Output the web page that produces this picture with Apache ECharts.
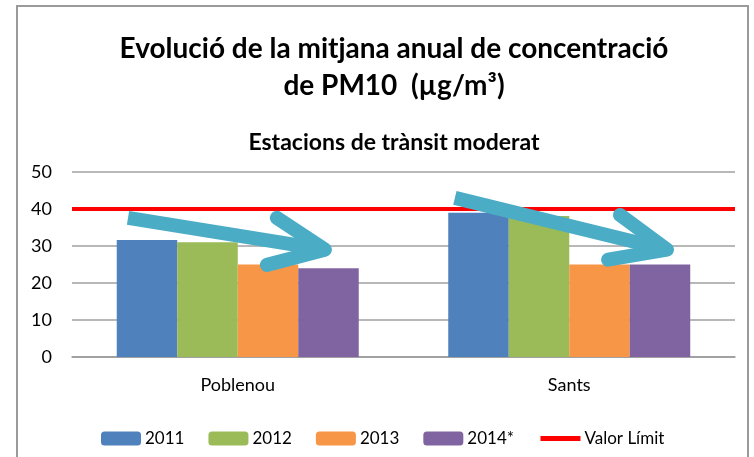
<!DOCTYPE html>
<html>
<head>
<meta charset="utf-8">
<script src="https://cdn.jsdelivr.net/npm/echarts@6/dist/echarts.min.js"></script>
<style>html,body{margin:0;padding:0;background:#fff}#c{width:754px;height:457px}</style>
</head>
<body>
<div id="c"></div>
<script>
// ---- data ----
var categories = ['Poblenou', 'Sants'];
var years = ['2011', '2012', '2013', '2014*'];
var v2011 = [31.6, 39.0];
var v2012 = [31.0, 38.1];
var v2013 = [25.0, 25.0];
var v2014 = [24.0, 25.0];
var limitName = 'Valor Límit';
var limitValue = 40;
var yTicks = [0, 10, 20, 30, 40, 50];
// trend arrows (annotation) in data space: [category position 0..2, value]
var arrow1Shaft = [[0.169, 37.6], [0.763, 29.0]];
var arrow1Head = [[0.618, 37.6], [0.763, 29.0], [0.588, 24.9]];
var arrow2Shaft = [[1.155, 43.0], [1.795, 29.0]];
var arrow2Head = [[1.653, 38.4], [1.795, 29.0], [1.617, 26.3]];

var colors = ['#4F81BD', '#9BBB59', '#F79646', '#8064A2'];
var seriesValues = [v2011, v2012, v2013, v2014];
var FONT = 'Lato';

var chart = echarts.init(document.getElementById('c'));
var series = years.map(function (y, i) {
  return {
    name: y, type: 'bar', data: seriesValues[i],
    barGap: '0%', barCategoryGap: '27%',
    itemStyle: { color: colors[i] }, z: 2
  };
});
series.push({
  name: limitName, type: 'line', data: [], symbol: 'none', showSymbol: false,
  lineStyle: { color: '#FF0000', width: 5 }, itemStyle: { color: '#FF0000' },
  markLine: {
    silent: true, symbol: 'none', label: { show: false },
    lineStyle: { color: '#FF0000', width: 4, type: 'solid' },
    data: [{ yAxis: limitValue }]
  }, z: 3
});
function arrowSeries(d, cap) {
  return {
    type: 'line', xAxisIndex: 1, yAxisIndex: 0, data: d, symbol: 'none', silent: true,
    lineStyle: { color: '#4BACC6', width: 14, cap: cap, join: 'round' }, z: 5
  };
}
series.push(arrowSeries(arrow1Shaft, 'butt'), arrowSeries(arrow1Head, 'round'),
            arrowSeries(arrow2Shaft, 'butt'), arrowSeries(arrow2Head, 'round'));

chart.setOption({
  animation: false,
  textStyle: { fontFamily: FONT },
  title: [
    { text: 'Evolució de la mitjana anual de concentració\nde PM10  (µg/m³)', left: 389, textAlign: 'center', top: 25,
      textStyle: { fontFamily: FONT, fontWeight: 'bold', fontSize: 28, lineHeight: 37, color: '#000' } },
    { text: 'Estacions de trànsit moderat', left: 389, textAlign: 'center', top: 126,
      textStyle: { fontFamily: FONT, fontWeight: 'bold', fontSize: 23, color: '#000' } }
  ],
  grid: { left: 72, right: 19, top: 172, bottom: 100 },
  legend: {
    data: years.concat([{ name: limitName, itemStyle: { opacity: 0 }, lineStyle: { width: 5, color: '#FF0000' } }]),
    left: 96, top: 425, itemWidth: 40, itemHeight: 14, itemGap: 24,
    textStyle: { fontFamily: FONT, fontSize: 17, color: '#000', padding: [0, 0, 0, -1] }
  },
  xAxis: [
    { type: 'category', data: categories, axisTick: { show: false },
      axisLine: { lineStyle: { color: '#999', width: 1.5 } },
      axisLabel: { fontFamily: FONT, fontSize: 18, color: '#000', margin: 19 } },
    { type: 'value', min: 0, max: 2, show: false }
  ],
  yAxis: {
    type: 'value', min: yTicks[0], max: yTicks[yTicks.length - 1], interval: 10,
    axisLine: { show: false }, axisTick: { show: false },
    axisLabel: { fontFamily: FONT, fontSize: 18, color: '#000', margin: 20 },
    splitLine: { lineStyle: { color: '#A0A0A0', width: 1.5 } }
  },
  graphic: [{ type: 'rect', shape: { x: 17, y: 6, width: 731, height: 470 },
    style: { fill: 'none', stroke: '#9a9a9a', lineWidth: 2 }, silent: true, z: -1 }],
  series: series
});
</script>
</body>
</html>
